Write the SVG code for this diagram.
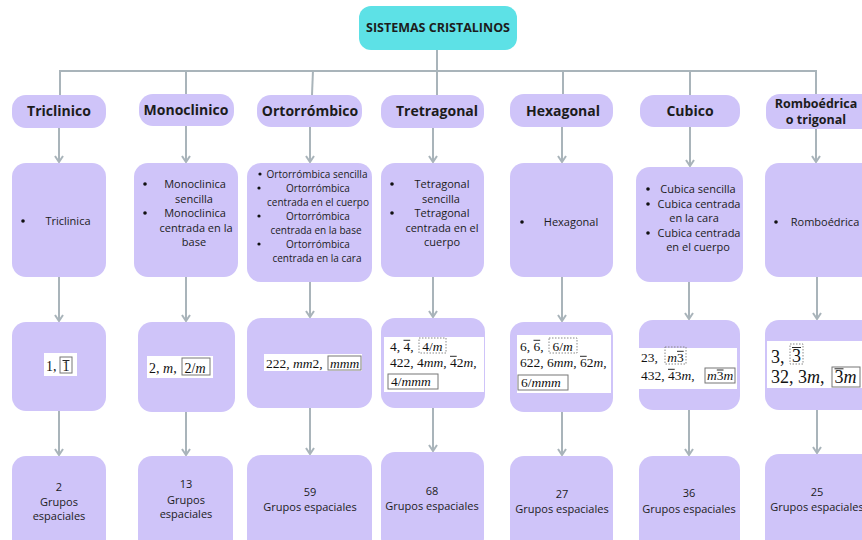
<svg xmlns="http://www.w3.org/2000/svg" width="862" height="540" viewBox="0 0 862 540">
<defs>
<style>
.box{fill:#cfc4f9}
.title{fill:#5de1e6}
.conn{stroke:#a9b4ba;stroke-width:2;fill:none}
.t{font-family:"Open Sans",sans-serif;fill:#1c1c1c}
.h{font-weight:700;font-size:14px;text-anchor:middle}
.hs{font-weight:700;font-size:12.5px;text-anchor:middle}
.b{font-size:11px;text-anchor:middle}
.s{font-size:10px;text-anchor:middle}
.m{font-family:"Liberation Serif",serif;fill:#111}
.i{font-style:italic}
.wb{fill:#fff}
.bx{fill:none;stroke:#777;stroke-width:1}
.dx{fill:none;stroke:#888;stroke-width:1;stroke-dasharray:1.5 1.5}
.ob{stroke:#111;stroke-width:0.9}
.dot{fill:#111}
</style>
<marker id="ah" viewBox="0 0 10 10" refX="9" refY="5" markerWidth="10" markerHeight="10" markerUnits="userSpaceOnUse" orient="auto">
<path d="M3,1 L9,5 L3,9" fill="none" stroke="#a9b4ba" stroke-width="2"/>
</marker>
</defs>
<rect width="862" height="540" fill="#fff"/>

<g id="connectors">
<line class="conn" x1="437" y1="50" x2="437" y2="71"/>
<line class="conn" x1="59" y1="71" x2="817" y2="71"/>
<line class="conn" x1="60" y1="70" x2="60" y2="95"/>
<line class="conn" x1="186" y1="70" x2="186" y2="94"/>
<line class="conn" x1="313" y1="70" x2="312" y2="95"/>
<line class="conn" x1="437" y1="70" x2="437" y2="95"/>
<line class="conn" x1="563" y1="70" x2="563" y2="94"/>
<line class="conn" x1="690" y1="70" x2="690" y2="95"/>
<line class="conn" x1="816" y1="70" x2="816" y2="94"/>

<line class="conn" marker-end="url(#ah)" x1="59" y1="128" x2="59" y2="162"/>
<line class="conn" marker-end="url(#ah)" x1="186" y1="126" x2="186" y2="162"/>
<line class="conn" marker-end="url(#ah)" x1="310" y1="127" x2="310" y2="162"/>
<line class="conn" marker-end="url(#ah)" x1="433" y1="128" x2="433" y2="162"/>
<line class="conn" marker-end="url(#ah)" x1="562" y1="127" x2="562" y2="162"/>
<line class="conn" marker-end="url(#ah)" x1="690" y1="127" x2="690" y2="166"/>
<line class="conn" marker-end="url(#ah)" x1="816" y1="129" x2="816" y2="162"/>

<line class="conn" marker-end="url(#ah)" x1="59" y1="277" x2="59" y2="321"/>
<line class="conn" marker-end="url(#ah)" x1="186" y1="277" x2="186" y2="321"/>
<line class="conn" marker-end="url(#ah)" x1="310" y1="282" x2="310" y2="317"/>
<line class="conn" marker-end="url(#ah)" x1="433" y1="277" x2="433" y2="317"/>
<line class="conn" marker-end="url(#ah)" x1="562" y1="277" x2="562" y2="321"/>
<line class="conn" marker-end="url(#ah)" x1="689" y1="282" x2="689" y2="319"/>
<line class="conn" marker-end="url(#ah)" x1="817" y1="277" x2="817" y2="319"/>

<line class="conn" marker-end="url(#ah)" x1="59" y1="411" x2="59" y2="455"/>
<line class="conn" marker-end="url(#ah)" x1="186" y1="412" x2="186" y2="455"/>
<line class="conn" marker-end="url(#ah)" x1="310" y1="408" x2="310" y2="454"/>
<line class="conn" marker-end="url(#ah)" x1="433" y1="408" x2="433" y2="451"/>
<line class="conn" marker-end="url(#ah)" x1="562" y1="412" x2="562" y2="455"/>
<line class="conn" marker-end="url(#ah)" x1="689" y1="410" x2="689" y2="455"/>
<line class="conn" marker-end="url(#ah)" x1="817" y1="410" x2="817" y2="453"/>
</g>

<g id="title">
<rect class="title" x="359" y="6" width="158" height="44" rx="12"/>
<text class="t hs" x="438" y="32">SISTEMAS CRISTALINOS</text>
</g>

<!-- Column 1 -->
<g id="triclinico">
<rect class="box" x="12" y="95" width="94" height="33" rx="14"/>
<text class="t h" x="59" y="116">Triclinico</text>
</g>
<g id="triclinica">
<rect class="box" x="12" y="163" width="94" height="114" rx="14"/>
<circle class="dot" cx="23" cy="221" r="1.8"/>
<text class="t b" x="68" y="225">Triclinica</text>
</g>
<g id="tri-grupos">
<rect class="box" x="12" y="322" width="94" height="89" rx="14"/>
<rect class="wb" x="44" y="353" width="33" height="23"/>
<text class="m" x="46" y="371" font-size="14">1,</text>
<rect class="bx" x="60" y="357" width="12" height="16"/>
<text class="m" x="62.5" y="371" font-size="14">1</text>
<line class="ob" x1="62.5" y1="360.5" x2="69.5" y2="360.5"/>
</g>
<g id="tri-esp">
<rect class="box" x="12" y="456" width="94" height="100" rx="14"/>
<text class="t b" x="59" y="491">2</text>
<text class="t b" x="59" y="506">Grupos</text>
<text class="t b" x="59" y="520">espaciales</text>
</g>

<!-- Column 2 -->
<g id="monoclinico">
<rect class="box" x="139" y="94" width="95" height="32" rx="14"/>
<text class="t h" x="186" y="115">Monoclinico</text>
</g>
<g id="monoclinica">
<rect class="box" x="134" y="163" width="104" height="114" rx="14"/>
<circle class="dot" cx="145" cy="184" r="1.8"/>
<circle class="dot" cx="145" cy="213" r="1.8"/>
<text class="t b" x="195" y="188">Monoclinica</text>
<text class="t b" x="194" y="203">sencilla</text>
<text class="t b" x="195" y="217">Monoclinica</text>
<text class="t b" x="196" y="232">centrada en la</text>
<text class="t b" x="194" y="246">base</text>
</g>
<g id="mono-grupos">
<rect class="box" x="138" y="322" width="97" height="90" rx="14"/>
<rect class="wb" x="147" y="356" width="66" height="22"/>
<text class="m" x="149" y="373" font-size="14">2, <tspan class="i">m</tspan>,</text>
<rect class="bx" x="182" y="358" width="28" height="17"/>
<text class="m" x="184.5" y="373" font-size="14">2/<tspan class="i">m</tspan></text>
</g>
<g id="mono-esp">
<rect class="box" x="138" y="456" width="95" height="100" rx="14"/>
<text class="t b" x="186" y="488">13</text>
<text class="t b" x="186" y="504">Grupos</text>
<text class="t b" x="186" y="518">espaciales</text>
</g>

<!-- Column 3 -->
<g id="ortorrombico">
<rect class="box" x="257" y="95" width="105" height="32" rx="14"/>
<text class="t h" x="310" y="116">Ortorrómbico</text>
</g>
<g id="ortorrombica">
<rect class="box" x="247" y="163" width="125" height="119" rx="14"/>
<circle class="dot" cx="260" cy="174" r="1.6"/>
<circle class="dot" cx="259" cy="188" r="1.6"/>
<circle class="dot" cx="259" cy="216" r="1.6"/>
<circle class="dot" cx="259" cy="244" r="1.6"/>
<text class="t s" x="317" y="178">Ortorrómbica sencilla</text>
<text class="t s" x="318" y="192">Ortorrómbica</text>
<text class="t s" x="318" y="206">centrada en el cuerpo</text>
<text class="t s" x="318" y="220">Ortorrómbica</text>
<text class="t s" x="316" y="234">centrada en la base</text>
<text class="t s" x="318" y="248">Ortorrómbica</text>
<text class="t s" x="317" y="262">centrada en la cara</text>
</g>
<g id="orto-grupos">
<rect class="box" x="247" y="318" width="125" height="90" rx="14"/>
<rect class="wb" x="264" y="354" width="98" height="17"/>
<text class="m" x="266" y="368" font-size="13.5">222, <tspan class="i">mm</tspan>2,</text>
<rect class="bx" x="328" y="356" width="33" height="14"/>
<text class="m i" x="330" y="368" font-size="13.5">mmm</text>
</g>
<g id="orto-esp">
<rect class="box" x="247" y="455" width="125" height="100" rx="14"/>
<text class="t b" x="310" y="496">59</text>
<text class="t b" x="310" y="511">Grupos espaciales</text>
</g>

<!-- Column 4 -->
<g id="tretragonal">
<rect class="box" x="381" y="95" width="103" height="33" rx="14"/>
<text class="t h" x="437" y="116">Tretragonal</text>
</g>
<g id="tetragonal">
<rect class="box" x="381" y="163" width="103" height="114" rx="14"/>
<circle class="dot" cx="392" cy="184" r="1.8"/>
<circle class="dot" cx="392" cy="213" r="1.8"/>
<text class="t b" x="442" y="188">Tetragonal</text>
<text class="t b" x="441" y="203">sencilla</text>
<text class="t b" x="442" y="217">Tetragonal</text>
<text class="t b" x="442" y="232">centrada en el</text>
<text class="t b" x="442" y="246">cuerpo</text>
</g>
<g id="tetra-grupos">
<rect class="box" x="381" y="318" width="104" height="90" rx="14"/>
<rect class="wb" x="384" y="337" width="100" height="55"/>
<text class="m" x="390" y="351" font-size="13.5">4, 4,</text>
<line class="ob" x1="403.5" y1="340.3" x2="410.2" y2="340.3"/>
<rect class="dx" x="419" y="338" width="27" height="15"/>
<text class="m" x="422.3" y="351" font-size="13.5">4/<tspan class="i">m</tspan></text>
<text class="m" x="390" y="367" font-size="13.5">422, 4<tspan class="i">mm</tspan>, 42<tspan class="i">m</tspan>,</text>
<line class="ob" x1="450" y1="356.3" x2="456.7" y2="356.3"/>
<rect class="bx" x="388" y="374" width="50" height="15"/>
<text class="m" x="391" y="386" font-size="13.5">4/<tspan class="i">mmm</tspan></text>
</g>
<g id="tetra-esp">
<rect class="box" x="381" y="452" width="103" height="100" rx="14"/>
<text class="t b" x="432" y="495">68</text>
<text class="t b" x="432" y="510">Grupos espaciales</text>
</g>

<!-- Column 5 -->
<g id="hexagonal">
<rect class="box" x="510" y="94" width="103" height="33" rx="14"/>
<text class="t h" x="563" y="116">Hexagonal</text>
</g>
<g id="hexagonal-red">
<rect class="box" x="510" y="163" width="103" height="114" rx="14"/>
<circle class="dot" cx="522" cy="222" r="1.8"/>
<text class="t b" x="571" y="226">Hexagonal</text>
</g>
<g id="hexa-grupos">
<rect class="box" x="510" y="322" width="103" height="90" rx="14"/>
<rect class="wb" x="517" y="335" width="94" height="58"/>
<text class="m" x="520" y="351" font-size="13.5">6, 6,</text>
<line class="ob" x1="533.5" y1="340.3" x2="540.2" y2="340.3"/>
<rect class="dx" x="549" y="338" width="28" height="15"/>
<text class="m" x="552.5" y="351" font-size="13.5">6/<tspan class="i">m</tspan></text>
<text class="m" x="520" y="367" font-size="13.5">622, 6<tspan class="i">mm</tspan>, 62<tspan class="i">m</tspan>,</text>
<line class="ob" x1="580" y1="356.3" x2="586.7" y2="356.3"/>
<rect class="bx" x="518" y="375" width="50" height="15"/>
<text class="m" x="521" y="387" font-size="13.5">6/<tspan class="i">mmm</tspan></text>
</g>
<g id="hexa-esp">
<rect class="box" x="510" y="456" width="103" height="100" rx="14"/>
<text class="t b" x="562" y="498">27</text>
<text class="t b" x="562" y="513">Grupos espaciales</text>
</g>

<!-- Column 6 -->
<g id="cubico">
<rect class="box" x="640" y="95" width="100" height="32" rx="14"/>
<text class="t h" x="690" y="116">Cubico</text>
</g>
<g id="cubica">
<rect class="box" x="636" y="167" width="107" height="115" rx="14"/>
<circle class="dot" cx="648" cy="189" r="1.8"/>
<circle class="dot" cx="648" cy="204" r="1.8"/>
<circle class="dot" cx="648" cy="233" r="1.8"/>
<text class="t b" x="698" y="193">Cubica sencilla</text>
<text class="t b" x="699" y="208">Cubica centrada</text>
<text class="t b" x="694" y="222">en la cara</text>
<text class="t b" x="699" y="237">Cubica centrada</text>
<text class="t b" x="698" y="251">en el cuerpo</text>
</g>
<g id="cubi-grupos">
<rect class="box" x="639" y="320" width="101" height="90" rx="14"/>
<rect class="wb" x="639" y="348" width="98" height="41"/>
<text class="m" x="641" y="362" font-size="13.5">23,</text>
<rect class="dx" x="665" y="347" width="21" height="17"/>
<text class="m" x="667.2" y="362" font-size="13.5"><tspan class="i">m</tspan>3</text>
<line class="ob" x1="677" y1="351.3" x2="683.7" y2="351.3"/>
<text class="m" x="641" y="380" font-size="13.5">432, 43<tspan class="i">m</tspan>,</text>
<line class="ob" x1="668" y1="369.3" x2="674.7" y2="369.3"/>
<rect class="bx" x="705" y="368" width="30" height="15"/>
<text class="m" x="707" y="380" font-size="13.5"><tspan class="i">m</tspan>3<tspan class="i">m</tspan></text>
<line class="ob" x1="716.8" y1="370" x2="723.5" y2="370"/>
</g>
<g id="cubi-esp">
<rect class="box" x="639" y="456" width="101" height="100" rx="14"/>
<text class="t b" x="689" y="497">36</text>
<text class="t b" x="689" y="513">Grupos espaciales</text>
</g>

<!-- Column 7 -->
<g id="romboedrica">
<rect class="box" x="766" y="94" width="110" height="35" rx="14"/>
<text class="t hs" x="816" y="108">Romboédrica</text>
<text class="t hs" x="816" y="124">o trigonal</text>
</g>
<g id="romboedrica-red">
<rect class="box" x="765" y="163" width="110" height="114" rx="14"/>
<circle class="dot" cx="776" cy="222" r="1.8"/>
<text class="t b" x="825" y="226">Romboédrica</text>
</g>
<g id="rombo-grupos">
<rect class="box" x="765" y="320" width="110" height="90" rx="14"/>
<rect class="wb" x="767" y="341" width="95" height="47"/>
<text class="m" x="771" y="363" font-size="18">3,</text>
<rect class="dx" x="790" y="344" width="13" height="20"/>
<text class="m" x="792" y="362" font-size="18">3</text>
<line class="ob" x1="792" y1="347.5" x2="801" y2="347.5"/>
<text class="m" x="771" y="383" font-size="18">32, 3<tspan class="i">m</tspan>,</text>
<rect class="bx" x="832" y="367" width="28" height="20"/>
<text class="m" x="834.5" y="383" font-size="18">3<tspan class="i">m</tspan></text>
<line class="ob" x1="834.5" y1="368.8" x2="843.5" y2="368.8"/>
</g>
<g id="rombo-esp">
<rect class="box" x="765" y="454" width="110" height="100" rx="14"/>
<text class="t b" x="817" y="496">25</text>
<text class="t b" x="817" y="511">Grupos espaciales</text>
</g>
</svg>
